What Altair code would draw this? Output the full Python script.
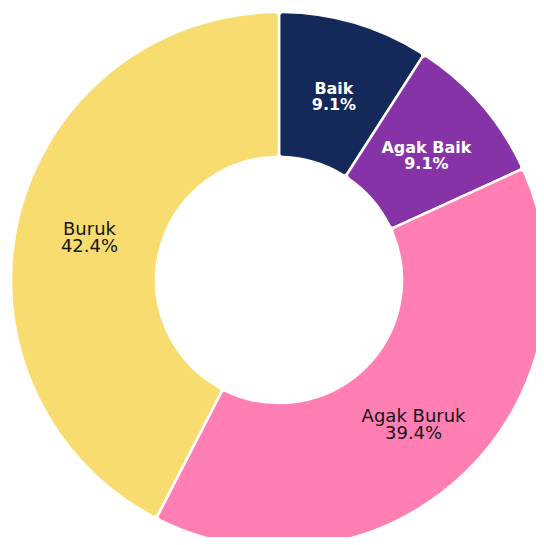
import altair as alt
import pandas as pd

categories = ["Baik", "Agak Baik", "Agak Buruk", "Buruk"]
counts = [3, 3, 13, 14]
percent_labels = ["9.1%", "9.1%", "39.4%", "42.4%"]
colors = ["#15285a", "#8533a7", "#ff7eb3", "#f8dc6f"]
light_text = [True, True, False, False]

df = pd.DataFrame({
    "kategori": categories,
    "jumlah": counts,
    "label_terang": [f"{c}\n{p}" if l else "" for c, p, l in zip(categories, percent_labels, light_text)],
    "label_gelap": [f"{c}\n{p}" if not l else "" for c, p, l in zip(categories, percent_labels, light_text)],
    "urutan": list(range(len(categories))),
})

cx, cy = 271, 272

base = alt.Chart(df).encode(
    theta=alt.Theta("jumlah:Q", stack=True),
    order=alt.Order("urutan:Q", sort="ascending"),
    x=alt.value(cx),
    y=alt.value(cy),
)

arcs = base.mark_arc(
    radius=268, radius2=123, stroke="white", strokeWidth=2.5, cornerRadius=4
).encode(
    color=alt.Color("kategori:N", scale=alt.Scale(domain=categories, range=colors), legend=None)
)

text_light = base.mark_text(
    radius=195, lineBreak="\n", font="DejaVu Sans", fontSize=16, fontWeight="bold",
    lineHeight=16, color="#ffffff", baseline="middle", align="center", dy=-4
).encode(text="label_terang:N")

text_dark = base.mark_text(
    radius=195, lineBreak="\n", font="DejaVu Sans", fontSize=18, fontWeight=500,
    lineHeight=17, color="#151515", baseline="middle", align="center", dy=-4
).encode(text="label_gelap:N")

chart = alt.layer(arcs, text_light, text_dark).properties(
    width=528, height=529, padding=0, autosize=alt.AutoSizeParams(type="none")
).configure_view(stroke=None)

chart.save("out.html", embed_options={"renderer": "svg", "actions": False})
